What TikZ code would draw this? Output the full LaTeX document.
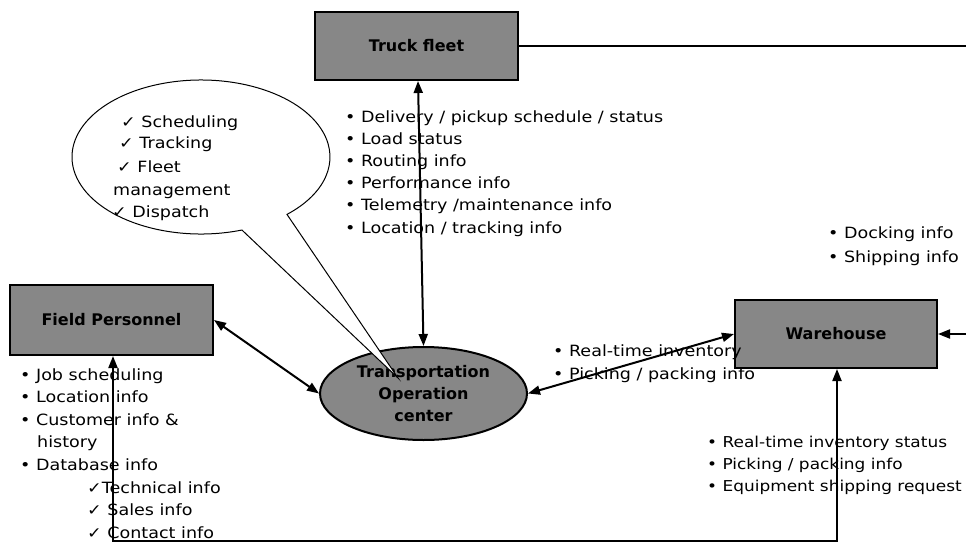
\documentclass[tikz,border=0pt]{standalone}
\usepackage{fontspec}
\setmainfont{DejaVu Sans}
\newfontfamily\lstfont{DejaVu Sans}[FakeStretch=1.13]
\usetikzlibrary{shapes.geometric,arrows.meta}
\begin{document}
\begin{tikzpicture}[x=1pt,y=-1pt,
  box/.style={draw=black, line width=2pt, fill=black!47, minimum width=203pt, minimum height=68pt, inner sep=0pt,
    font=\fontsize{16}{22}\selectfont\bfseries},
  lst/.style={font=\lstfont\fontsize{15.5}{22}\selectfont, inner sep=0pt, anchor=base west},
  lsts/.style={lst, font=\lstfont\fontsize{15}{22}\selectfont},
  conn/.style={line width=2pt},
  arr/.style={conn, {Triangle[length=12pt,width=9pt]}-{Triangle[length=12pt,width=9pt]}},
  arrend/.style={conn, -{Triangle[length=12pt,width=9pt]}},
  callout/.style={draw=black, line width=1pt, fill=white}]
\useasboundingbox (0,0) rectangle (966,544);
\clip (0,0) rectangle (966,544);

% main nodes
\node[box] (truck) at (416.5,46) {Truck fleet};
\node[box, minimum height=70pt] (field) at (111.5,320) {Field Personnel};
\node[box, minimum width=202pt] (wh) at (836,334) {Warehouse};
\node[ellipse, draw=black, line width=2pt, fill=black!47, minimum width=207pt, minimum height=93pt, inner sep=0pt,
  align=center, font=\fontsize{16}{22}\selectfont\bfseries] (toc) at (423.5,393.5) {Transportation\\Operation\\center};

% connectors
\draw[arr] ([xshift=1.5pt]truck.south) -- (toc.north);
\draw[arr] (field.east) -- (toc.west);
\draw[arr] (toc.east) -- (wh.west);
\coordinate (bl) at (113,541);
\coordinate (br) at (837,541);
\draw[arr] (bl |- field.south) -- (bl) -- (br) -- (br |- wh.south);
\coordinate (re) at (975,200);
\draw[arrend] (truck.east) -| (re) |- (wh.east);

% callout bubble
\coordinate (bc) at (201,157);
\coordinate (tip) at (398,378);
\draw[callout] (bc) ++(71.5:129 and 77) arc[start angle=71.5, end angle=408.2, x radius=129, y radius=77] -- (tip) -- cycle;
\node[lst] (cb1) at (121,127) {✓ Scheduling};
\node[lst] (cb2) at (119,148.5) {✓ Tracking};
\node[lst] (cb3) at (117,172) {✓ Fleet};
\node[lst] (cb4) at (113,195) {management};
\node[lst] (cb5) at (112,217) {✓ Dispatch};

% truck fleet list
\foreach \t [count=\i] in {• Delivery / pickup schedule / status, • Load status, • Routing info, • Performance info, • Telemetry /maintenance info, • Location / tracking info}
  \node[lst] (tl\i) at (345,{122+22.2*(\i-1)}) {\t};

% docking list
\node[lst] (dk1) at (828,238) {• Docking info};
\node[lst] (dk2) at (828,262) {• Shipping info};

% field list
\node[lst] (fl1) at (20,380) {• Job scheduling};
\node[lst] (fl2) at (20,402) {• Location info};
\node[lst] (fl3) at (20,425) {• Customer info \&};
\node[lst] (fl4) at (37,447) {history};
\node[lst] (fl5) at (20,470) {• Database info};
\node[lst] (fl6) at (87,493) {✓Technical info};
\node[lst] (fl7) at (87,515) {✓ Sales info};
\node[lst] (fl8) at (87,538) {✓ Contact info};

% middle list
\node[lst] (ml1) at (553,356) {• Real-time inventory};
\node[lst] (ml2) at (553,379) {• Picking / packing info};

% warehouse list
\node[lsts] (wl1) at (707,447) {• Real-time inventory status};
\node[lsts] (wl2) at (707,469) {• Picking / packing info};
\node[lsts] (wl3) at (707,491) {• Equipment shipping request};
\end{tikzpicture}
\end{document}
